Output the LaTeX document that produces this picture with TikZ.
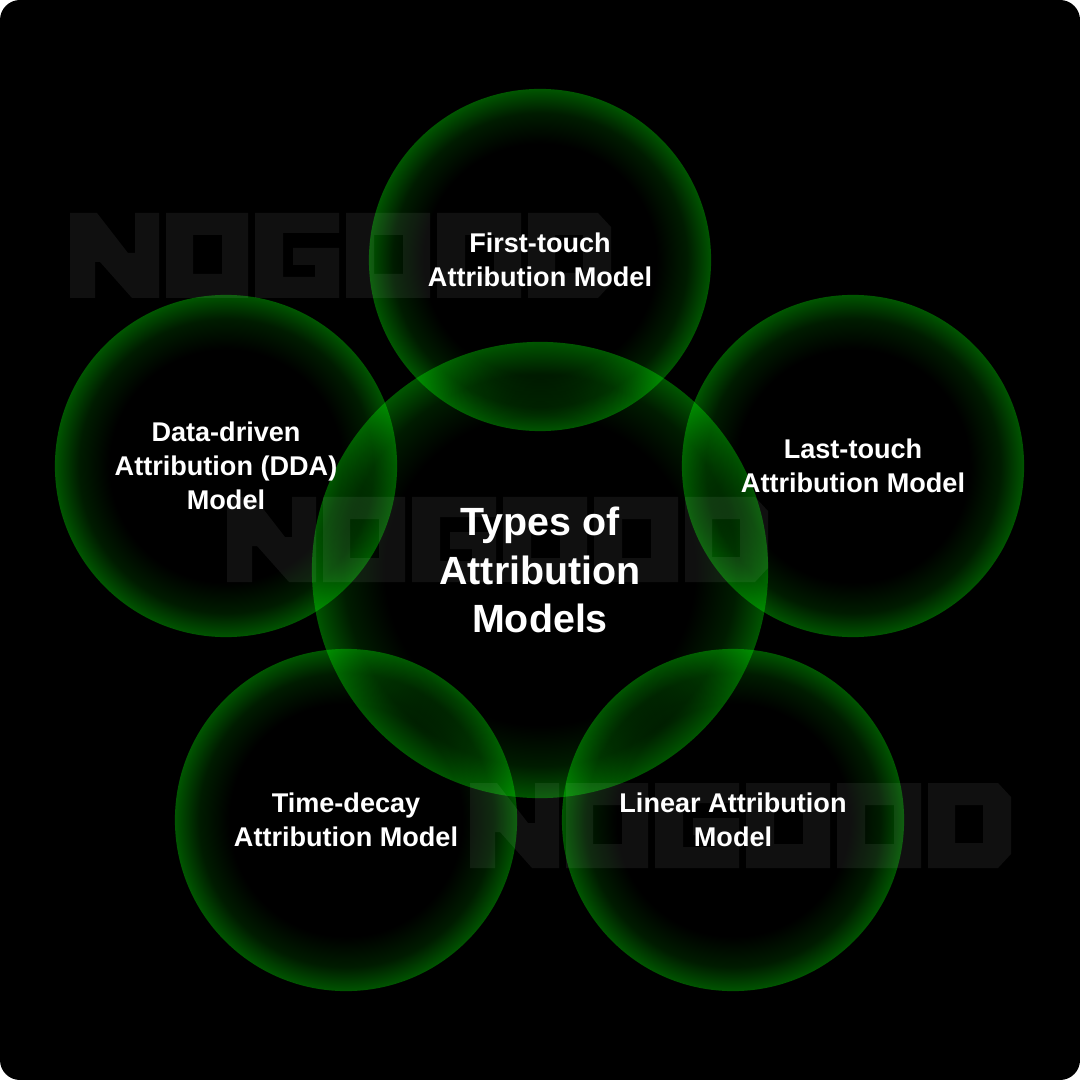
\documentclass[tikz,border=0pt]{standalone}
\usepackage{fontspec}
\setmainfont{Liberation Sans}
\usetikzlibrary{positioning}

\definecolor{markgray}{RGB}{16,16,16}
\pgfdeclareradialshading{greenglow}{\pgfpoint{0bp}{0bp}}{rgb(0bp)=(0,0,0); rgb(17bp)=(0,0,0); rgb(21.5bp)=(0,0.11,0); rgb(24.5bp)=(0,0.3,0); rgb(27bp)=(0,0.48,0); rgb(50bp)=(0,0.48,0)}

\tikzset{
  glow/.style={circle, shading=greenglow, minimum size=3.42cm, inner sep=0pt, align=center, text=white,
    font=\bfseries\fontsize{7.7}{9.7}\selectfont},
  hub/.style={glow, minimum size=4.56cm, font=\bfseries\fontsize{11.2}{13.9}\selectfont},
  markfill/.style={fill=markgray, even odd rule}
}

% watermark, top left corner at (#1,#2)
\newcommand{\nogoodmark}[2]{%
  \begin{scope}[shift={(#1,#2)}]
    \fill[markfill] (0,0) -- (27,0) -- (58,40) -- (65,40) -- (65,0) -- (89,0) -- (89,85)
      -- (62,85) -- (30,49) -- (25,49) -- (25,85) -- (0,85) -- cycle;
    \fill[markfill] (96,0) rectangle (178,85) (123,22) rectangle (152,61);
    \fill[markfill] (185,0) -- (269,0) -- (269,20) -- (213,20) -- (213,64) -- (245,64) -- (245,52)
      -- (223,52) -- (223,35) -- (269,35) -- (269,85) -- (185,85) -- cycle;
    \fill[markfill] (276,0) rectangle (360,85) (304,22) rectangle (333,61);
    \fill[markfill] (367,0) rectangle (451,85) (395,22) rectangle (424,61);
    \fill[markfill] (458,0) -- (528,0) -- (541,14) -- (541,71) -- (528,85) -- (458,85) -- cycle
      (485,22) rectangle (513,60);
  \end{scope}}

\begin{document}
\begin{tikzpicture}[x=0.01cm, y=-0.01cm]
    \useasboundingbox (0,0) rectangle (1080,1080);
    \fill[white] (0,0) rectangle (1080,1080);
    \fill[black, rounded corners=0.2cm] (0,0) rectangle (1080,1080);

    % watermarks
    \nogoodmark{70}{213}
    \nogoodmark{227}{497}
    \nogoodmark{470}{783}

    % nodes
    \begin{scope}[blend mode=screen]
        \node (hub) [hub] at (540,570) {Types of\\Attribution\\Models};
        \node (first) [glow] at (540,260) {First-touch\\Attribution Model};
        \node (last) [glow] at (853,466) {Last-touch\\Attribution Model};
        \node (linear) [glow] at (733,820) {Linear Attribution\\Model};
        \node (decay) [glow] at (346,820) {Time-decay\\Attribution Model};
        \node (dda) [glow] at (226,466) {Data-driven\\Attribution (DDA)\\Model};
    \end{scope}
\end{tikzpicture}
\end{document}
